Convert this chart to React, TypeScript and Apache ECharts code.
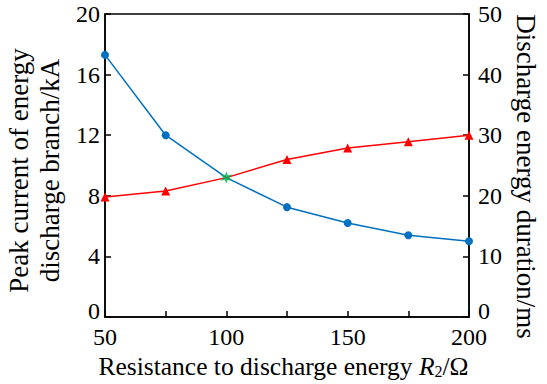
import React, { useEffect, useRef } from "react";
import * as echarts from "echarts";

const resistance = [50, 75, 100, 125, 150, 175, 200];
const peakCurrent = [17.3, 12.0, null, 7.25, 6.2, 5.4, 5.0];
const duration = [19.8, 20.8, null, 26.0, 27.9, 28.9, 30.0];
const crossPoint = [[100, 9.2]];
const leftTicks = [0, 4, 8, 12, 16, 20];
const rightTicks = [0, 10, 20, 30, 40, 50];

function starPath(points: number, outer: number, inner: number) {
  let d = "";
  for (let i = 0; i < points * 2; i++) {
    const r = i % 2 === 0 ? outer : inner;
    const a = -Math.PI / 2 + (i * Math.PI) / points;
    const x = (r * Math.cos(a) + outer).toFixed(3);
    const y = (r * Math.sin(a) + outer).toFixed(3);
    d += (i === 0 ? "M" : "L") + x + " " + y + " ";
  }
  return "path://" + d + "Z";
}

const FONT = "'Liberation Serif', 'Times New Roman', serif";

export default function App() {
  const ref = useRef<HTMLDivElement>(null);
  useEffect(() => {
    if (!ref.current) return;
    const chart = echarts.init(ref.current, undefined, { renderer: "svg" });
    const blueLine = resistance.map((x, i) => [x, peakCurrent[i] ?? crossPoint[0][1]]);
    const redLine = resistance.map((x, i) => [x, duration[i] ?? crossPoint[0][1] * 2.5]);
    const axisLine = { show: true, lineStyle: { color: "#000", width: 1.5 } };
    const axisTick = { show: true, inside: true, length: 6, lineStyle: { color: "#000", width: 1.5 } };
    const yLabel = (v: number) => (v === 0 ? "{z|0}" : String(v));
    const rich = { z: { fontFamily: FONT, fontSize: 24, color: "#000", padding: [0, 0, 12, 0] } };
    chart.setOption({
      animation: false,
      backgroundColor: "#fff",
      grid: {
        left: 105,
        right: 78,
        top: 14,
        bottom: 67,
        containLabel: false,
        outerBoundsMode: "none",
        show: true,
        borderColor: "#000",
        borderWidth: 1.5,
        backgroundColor: "transparent",
      },
      xAxis: {
        type: "value",
        min: 50,
        max: 200,
        interval: 25,
        axisLine,
        axisTick,
        splitLine: { show: false },
        axisLabel: {
          fontFamily: FONT,
          fontSize: 24,
          color: "#000",
          margin: 8,
          formatter: (v: number) => (v % 50 === 0 ? String(v) : ""),
        },
        name: "{n|Resistance to discharge energy }{i|R}{s|2}{n|/Ω}",
        nameLocation: "middle",
        nameGap: 35,
        nameTextStyle: {
          padding: [0, 7, 0, 0],
          rich: {
            n: { fontFamily: FONT, fontSize: 25.5, color: "#000" },
            i: { fontFamily: FONT, fontSize: 25.5, fontStyle: "italic", color: "#000" },
            s: { fontFamily: FONT, fontSize: 16, color: "#000", verticalAlign: "bottom", padding: [9, 0, 0, 0] },
          },
        },
      },
      yAxis: [
        {
          type: "value",
          min: 0,
          max: 20,
          interval: 4,
          axisLine,
          axisTick,
          splitLine: { show: false },
          axisLabel: {
            fontFamily: FONT,
            fontSize: 24,
            color: "#000",
            margin: 5,
            customValues: leftTicks,
            formatter: yLabel,
            rich,
          },
          name: "Peak current of energy\ndischarge branch/kA",
          nameLocation: "middle",
          nameGap: 21,
          nameTextStyle: {
            fontFamily: FONT,
            fontSize: 27,
            color: "#000",
            lineHeight: 31,
            padding: [0, 10, 0, 0],
          },
        },
        {
          type: "value",
          min: 0,
          max: 50,
          interval: 10,
          position: "right",
          axisLine,
          axisTick,
          splitLine: { show: false },
          axisLabel: {
            fontFamily: FONT,
            fontSize: 24,
            color: "#000",
            margin: 9,
            customValues: rightTicks,
            formatter: yLabel,
            rich,
          },
          name: "Discharge energy duration/ms",
          nameLocation: "middle",
          nameRotate: -90,
          nameGap: 40,
          nameTextStyle: { fontFamily: FONT, fontSize: 27, color: "#000", padding: [0, 0, 0, 22] },
        },
      ],
      series: [
        {
          type: "line",
          yAxisIndex: 0,
          data: blueLine,
          symbol: "circle",
          symbolSize: (v: number[]) => (v[0] === 100 ? 0 : 8),
          lineStyle: { color: "#0070c0", width: 1.5 },
          itemStyle: { color: "#0070c0" },
          z: 3,
        },
        {
          type: "line",
          yAxisIndex: 1,
          data: redLine,
          symbol: "triangle",
          symbolSize: (v: number[]) => (v[0] === 100 ? 0 : 9),
          lineStyle: { color: "#ff0000", width: 1.5 },
          itemStyle: { color: "#ff0000" },
          z: 3,
        },
        {
          type: "scatter",
          yAxisIndex: 0,
          data: crossPoint,
          symbol: starPath(6, 10, 4.5),
          symbolSize: 12,
          itemStyle: { color: "#00b050" },
          z: 5,
        },
      ],
    });
    return () => chart.dispose();
  }, []);
  return (
    <div
      ref={ref}
      style={{ position: "fixed", left: 0, top: 0, width: 547, height: 384 }}
    />
  );
}
